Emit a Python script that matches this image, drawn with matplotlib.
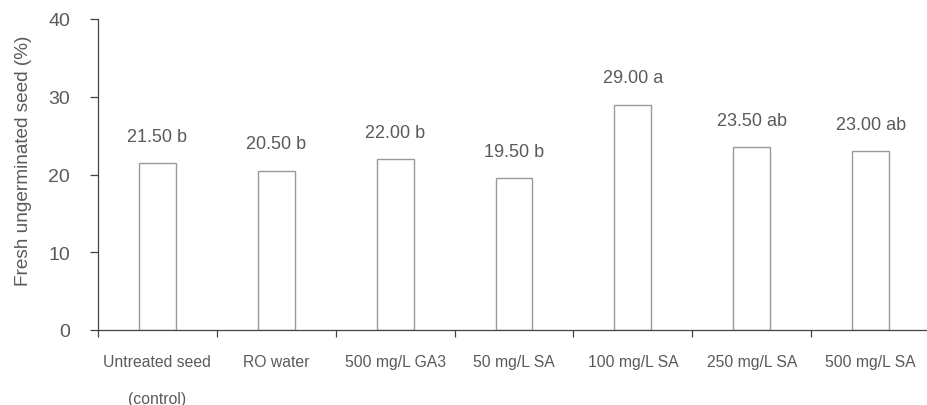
import matplotlib
matplotlib.use("Agg")
import matplotlib.pyplot as plt
import numpy as np

categories = ["Untreated seed\n(control)", "RO water", "500 mg/L GA3", "50 mg/L SA",
              "100 mg/L SA", "250 mg/L SA", "500 mg/L SA"]
values = [21.5, 20.5, 22.0, 19.5, 29.0, 23.5, 23.0]
letters = ["b", "b", "b", "b", "a", "ab", "ab"]
yticks = [0, 10, 20, 30, 40]

plt.rcParams['font.family'] = ['Liberation Sans', 'DejaVu Sans']
txt = '#5a5a5a'

fig = plt.figure(figsize=(9.27, 4.06), dpi=100)
ax = fig.add_axes([98/927, 75/406, 832/927, 311/406])
x = np.arange(len(categories))
ax.bar(x, values, width=0.31, facecolor='white', edgecolor='#9a9a9a', linewidth=1.0)

for xi, v, l in zip(x, values, letters):
    ax.annotate(f"{v:.2f} {l}", (xi, v), xytext=(0, 16), textcoords='offset points',
                ha='center', va='baseline', fontsize=13, color=txt)

ax.set_xlim(-0.5, len(categories) - 0.5)
ax.set_ylim(0, 40)
ax.set_yticks(yticks)
ax.set_xticks(x)
ax.set_xticklabels(categories, fontsize=11.3, color=txt, linespacing=2.9, va='top')
ax.set_xticks(np.arange(len(categories)) - 0.5, minor=True)
ax.tick_params(axis='x', which='major', length=0, pad=17)
ax.tick_params(axis='x', which='minor', length=5, width=0.9, color='#444444', direction='out')
ax.tick_params(axis='y', length=6, width=0.9, color='#444444', direction='out',
               labelsize=14, labelcolor=txt, pad=14)
ax.set_ylabel("Fresh ungerminated seed (%)", fontsize=13.7, color=txt)
ax.yaxis.set_label_coords(-0.079, 0.547)
for s in ['top', 'right']:
    ax.spines[s].set_visible(False)
for s in ['left', 'bottom']:
    ax.spines[s].set_color('#444444')
    ax.spines[s].set_linewidth(0.9)

fig.savefig("out.png", dpi=100)
